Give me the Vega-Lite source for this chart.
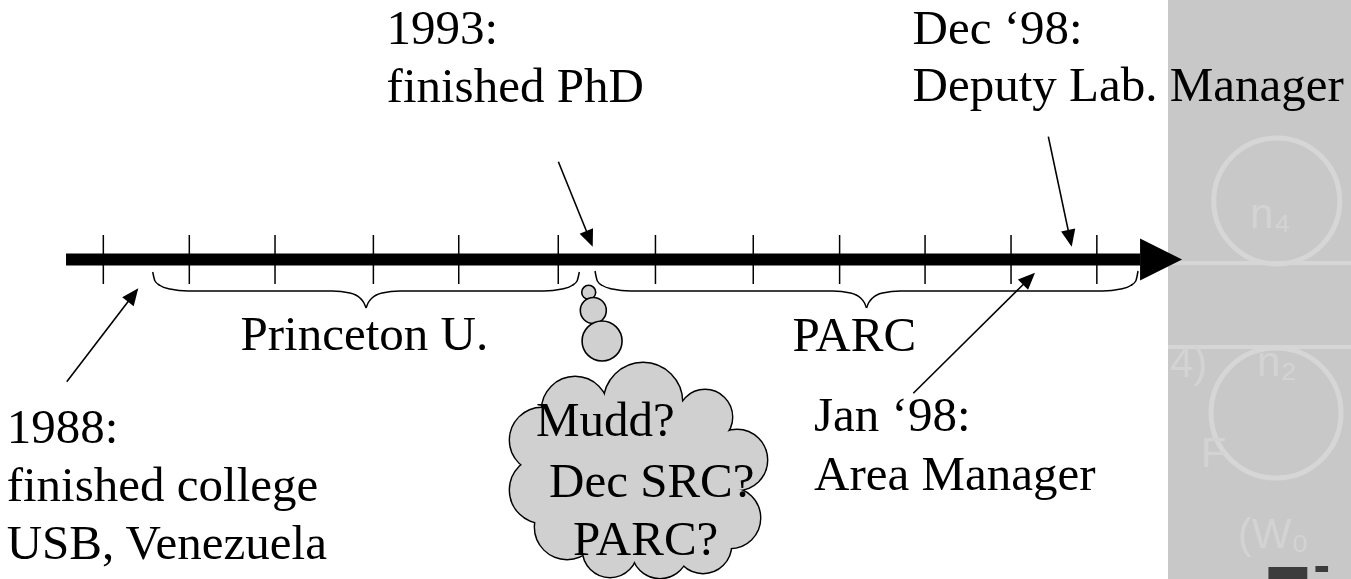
{
  "$schema": "https://vega.github.io/schema/vega-lite/v6.json",
  "width": 1351,
  "height": 579,
  "autosize": "none",
  "padding": 0,
  "background": "white",
  "config": {"view": {"stroke": null}},
  "datasets": {
    "panel": [{"yr": 1999.788, "yr2": 2002.0, "v": 0, "v2": 579}],
    "panelLines": [
      {"yr": 1999.788, "yr2": 2002.0, "v": 263},
      {"yr": 1999.788, "yr2": 2002.0, "v": 347}
    ],
    "panelCircles": [
      {"yr": 2000.992, "v": 201, "d": 126},
      {"yr": 2000.984, "v": 413, "d": 130}
    ],
    "panelText": [
      {"t": "n₄", "yr": 2000.696, "v": 228},
      {"t": "n₂", "yr": 2000.774, "v": 376},
      {"t": "4)", "yr": 1999.810, "v": 377},
      {"t": "F", "yr": 2000.150, "v": 467},
      {"t": "(W₀", "yr": 2000.560, "v": 548}
    ],
    "logo": [
      {"yr": 2000.900, "yr2": 2001.330, "v": 567, "v2": 580},
      {"yr": 2001.420, "yr2": 2001.560, "v": 566, "v2": 572}
    ],
    "axisline": [{"yr": 1987.587, "yr2": 1999.478, "v": 259.5}],
    "axishead": [{"yr": 1999.711, "v": 259.5}],
    "ticks": [
      {"yr": 1988.000}, {"yr": 1988.952}, {"yr": 1989.901}, {"yr": 1990.990},
      {"yr": 1991.935}, {"yr": 1993.037}, {"yr": 1994.113}, {"yr": 1995.196},
      {"yr": 1996.152}, {"yr": 1997.098}, {"yr": 1998.050}, {"yr": 1999.000}
    ],
    "braces": [
      {"id": "PL", "yr": 1988.547, "v": 272},
      {"id": "PL", "yr": 1988.572, "v": 281},
      {"id": "PL", "yr": 1988.628, "v": 285.5},
      {"id": "PL", "yr": 1988.738, "v": 289},
      {"id": "PL", "yr": 1988.938, "v": 291},
      {"id": "PL", "yr": 1990.532, "v": 291},
      {"id": "PL", "yr": 1990.731, "v": 293},
      {"id": "PL", "yr": 1990.842, "v": 298},
      {"id": "PL", "yr": 1990.886, "v": 303},
      {"id": "PL", "yr": 1990.909, "v": 308},
      {"id": "PR", "yr": 1990.909, "v": 308},
      {"id": "PR", "yr": 1990.931, "v": 303},
      {"id": "PR", "yr": 1990.975, "v": 298},
      {"id": "PR", "yr": 1991.086, "v": 293},
      {"id": "PR", "yr": 1991.285, "v": 291},
      {"id": "PR", "yr": 1992.879, "v": 291},
      {"id": "PR", "yr": 1993.079, "v": 289},
      {"id": "PR", "yr": 1993.189, "v": 285.5},
      {"id": "PR", "yr": 1993.245, "v": 281},
      {"id": "PR", "yr": 1993.270, "v": 272},
      {"id": "AL", "yr": 1993.444, "v": 271},
      {"id": "AL", "yr": 1993.470, "v": 281},
      {"id": "AL", "yr": 1993.525, "v": 285.5},
      {"id": "AL", "yr": 1993.636, "v": 289},
      {"id": "AL", "yr": 1993.835, "v": 291},
      {"id": "AL", "yr": 1996.074, "v": 291},
      {"id": "AL", "yr": 1996.273, "v": 293},
      {"id": "AL", "yr": 1996.384, "v": 298},
      {"id": "AL", "yr": 1996.428, "v": 303},
      {"id": "AL", "yr": 1996.450, "v": 308},
      {"id": "AR", "yr": 1996.450, "v": 308},
      {"id": "AR", "yr": 1996.472, "v": 303},
      {"id": "AR", "yr": 1996.517, "v": 298},
      {"id": "AR", "yr": 1996.627, "v": 293},
      {"id": "AR", "yr": 1996.827, "v": 291},
      {"id": "AR", "yr": 1999.065, "v": 291},
      {"id": "AR", "yr": 1999.265, "v": 289},
      {"id": "AR", "yr": 1999.375, "v": 285.5},
      {"id": "AR", "yr": 1999.431, "v": 281},
      {"id": "AR", "yr": 1999.456, "v": 271}
    ],
    "arrows": [
      {"id": "1988", "yr": 1987.595, "v": 381.7, "yr2": 1988.330, "v2": 295.0, "ang": 37.5},
      {"id": "1993", "yr": 1993.038, "v": 161.7, "yr2": 1993.383, "v2": 238.8, "ang": 158},
      {"id": "Dec98", "yr": 1998.463, "v": 136.7, "yr2": 1998.702, "v2": 238.4, "ang": 168},
      {"id": "Jan98", "yr": 1996.968, "v": 393.3, "yr2": 1998.249, "v2": 278.7, "ang": 45.2}
    ],
    "bubbles": [
      {"yr": 1993.374, "v": 292.3, "d": 14},
      {"yr": 1993.425, "v": 310.5, "d": 26},
      {"yr": 1993.522, "v": 341, "d": 40}
    ],
    "cloud": [
      {"yr": 1993.223, "v": 410, "d": 66},
      {"yr": 1993.976, "v": 402, "d": 78},
      {"yr": 1994.662, "v": 417, "d": 54},
      {"yr": 1995.016, "v": 460, "d": 60},
      {"yr": 1994.939, "v": 518, "d": 60},
      {"yr": 1994.640, "v": 545, "d": 56},
      {"yr": 1994.164, "v": 550, "d": 56},
      {"yr": 1993.610, "v": 550, "d": 54},
      {"yr": 1993.134, "v": 527, "d": 64},
      {"yr": 1992.868, "v": 490, "d": 66},
      {"yr": 1992.857, "v": 440, "d": 64}
    ],
    "cloudCore": [
      {"yr": 1993.942, "v": 470, "d": 160},
      {"yr": 1994.750, "v": 488, "d": 40}
    ],
    "labels": [
      {"t": "1993:", "yr": 1991.136, "v": 44},
      {"t": "finished PhD", "yr": 1991.136, "v": 102},
      {"t": "Dec ‘98:", "yr": 1996.959, "v": 44},
      {"t": "Deputy Lab. Manager", "yr": 1996.959, "v": 100.5},
      {"t": "Princeton U.", "yr": 1989.519, "v": 350},
      {"t": "PARC", "yr": 1995.631, "v": 350.7},
      {"t": "1988:", "yr": 1986.930, "v": 443.3},
      {"t": "finished college", "yr": 1986.930, "v": 501},
      {"t": "USB, Venezuela", "yr": 1986.930, "v": 559},
      {"t": "Jan ‘98:", "yr": 1995.869, "v": 430.7},
      {"t": "Area Manager", "yr": 1995.869, "v": 490},
      {"t": "Mudd?", "yr": 1992.791, "v": 436},
      {"t": "Dec SRC?", "yr": 1992.935, "v": 496.7},
      {"t": "PARC?", "yr": 1993.201, "v": 554.5}
    ]
  },
  "layer": [
    {
      "data": {"name": "panel"},
      "mark": {"type": "rect", "color": "#c8c8c8"},
      "encoding": {
        "x": {"field": "yr", "type": "quantitative", "scale": {"domain": [1986.856, 2001.814], "nice": false, "zero": false}, "axis": null},
        "x2": {"field": "yr2"},
        "y": {"field": "v", "type": "quantitative", "scale": {"domain": [0, 579], "reverse": true, "nice": false, "zero": false}, "axis": null},
        "y2": {"field": "v2"}
      }
    },
    {
      "data": {"name": "panelLines"},
      "mark": {"type": "rule", "color": "#d6d6d6", "strokeWidth": 4},
      "encoding": {
        "x": {"field": "yr", "type": "quantitative", "scale": {"domain": [1986.856, 2001.814], "nice": false, "zero": false}, "axis": null},
        "x2": {"field": "yr2"},
        "y": {"field": "v", "type": "quantitative", "scale": {"domain": [0, 579], "reverse": true, "nice": false, "zero": false}, "axis": null}
      }
    },
    {
      "data": {"name": "panelCircles"},
      "mark": {"type": "point", "shape": "circle", "filled": false, "stroke": "#d6d6d6", "strokeWidth": 5, "opacity": 1},
      "encoding": {
        "x": {"field": "yr", "type": "quantitative", "scale": {"domain": [1986.856, 2001.814], "nice": false, "zero": false}, "axis": null},
        "y": {"field": "v", "type": "quantitative", "scale": {"domain": [0, 579], "reverse": true, "nice": false, "zero": false}, "axis": null},
        "size": {"field": "d", "type": "quantitative", "scale": {"type": "pow", "exponent": 2, "domain": [0, 200], "range": [0, 40000]}, "legend": null}
      }
    },
    {
      "data": {"name": "panelText"},
      "mark": {"type": "text", "font": "Liberation Sans", "fontSize": 42, "align": "left", "baseline": "alphabetic", "color": "#d3d3d3"},
      "encoding": {
        "x": {"field": "yr", "type": "quantitative", "scale": {"domain": [1986.856, 2001.814], "nice": false, "zero": false}, "axis": null},
        "y": {"field": "v", "type": "quantitative", "scale": {"domain": [0, 579], "reverse": true, "nice": false, "zero": false}, "axis": null},
        "text": {"field": "t"}
      }
    },
    {
      "data": {"name": "logo"},
      "mark": {"type": "rect", "color": "#3c3c3c"},
      "encoding": {
        "x": {"field": "yr", "type": "quantitative", "scale": {"domain": [1986.856, 2001.814], "nice": false, "zero": false}, "axis": null},
        "x2": {"field": "yr2"},
        "y": {"field": "v", "type": "quantitative", "scale": {"domain": [0, 579], "reverse": true, "nice": false, "zero": false}, "axis": null},
        "y2": {"field": "v2"}
      }
    },
    {
      "data": {"name": "axisline"},
      "mark": {"type": "rule", "color": "black", "strokeWidth": 12},
      "encoding": {
        "x": {"field": "yr", "type": "quantitative", "scale": {"domain": [1986.856, 2001.814], "nice": false, "zero": false}, "axis": null},
        "x2": {"field": "yr2"},
        "y": {"field": "v", "type": "quantitative", "scale": {"domain": [0, 579], "reverse": true, "nice": false, "zero": false}, "axis": null}
      }
    },
    {
      "data": {"name": "axishead"},
      "mark": {"type": "point", "shape": "M-1,-1L1,0L-1,1Z", "filled": true, "color": "black", "size": 1764, "opacity": 1},
      "encoding": {
        "x": {"field": "yr", "type": "quantitative", "scale": {"domain": [1986.856, 2001.814], "nice": false, "zero": false}, "axis": null},
        "y": {"field": "v", "type": "quantitative", "scale": {"domain": [0, 579], "reverse": true, "nice": false, "zero": false}, "axis": null}
      }
    },
    {
      "data": {"name": "ticks"},
      "mark": {"type": "rule", "color": "black", "strokeWidth": 1.5},
      "encoding": {
        "x": {"field": "yr", "type": "quantitative", "scale": {"domain": [1986.856, 2001.814], "nice": false, "zero": false}, "axis": null},
        "y": {"datum": 235, "type": "quantitative", "scale": {"domain": [0, 579], "reverse": true, "nice": false, "zero": false}, "axis": null},
        "y2": {"datum": 284}
      }
    },
    {
      "data": {"name": "braces"},
      "mark": {"type": "line", "interpolate": "monotone", "color": "black", "strokeWidth": 1.5},
      "encoding": {
        "x": {"field": "yr", "type": "quantitative", "scale": {"domain": [1986.856, 2001.814], "nice": false, "zero": false}, "axis": null},
        "y": {"field": "v", "type": "quantitative", "scale": {"domain": [0, 579], "reverse": true, "nice": false, "zero": false}, "axis": null},
        "detail": {"field": "id", "type": "nominal"}
      }
    },
    {
      "data": {"name": "arrows"},
      "mark": {"type": "rule", "color": "black", "strokeWidth": 1.6},
      "encoding": {
        "x": {"field": "yr", "type": "quantitative", "scale": {"domain": [1986.856, 2001.814], "nice": false, "zero": false}, "axis": null},
        "x2": {"field": "yr2"},
        "y": {"field": "v", "type": "quantitative", "scale": {"domain": [0, 579], "reverse": true, "nice": false, "zero": false}, "axis": null},
        "y2": {"field": "v2"}
      }
    },
    {
      "data": {"name": "arrows"},
      "mark": {"type": "point", "shape": "M0,-1L0.85,1L-0.85,1Z", "filled": true, "color": "black", "size": 289, "opacity": 1},
      "encoding": {
        "x": {"field": "yr2", "type": "quantitative", "scale": {"domain": [1986.856, 2001.814], "nice": false, "zero": false}, "axis": null},
        "y": {"field": "v2", "type": "quantitative", "scale": {"domain": [0, 579], "reverse": true, "nice": false, "zero": false}, "axis": null},
        "angle": {"field": "ang", "type": "quantitative", "scale": {"domain": [0, 360], "range": [0, 360]}}
      }
    },
    {
      "data": {"name": "bubbles"},
      "mark": {"type": "point", "shape": "circle", "filled": true, "fill": "#d0d0d0", "stroke": "black", "strokeWidth": 1.6, "opacity": 1},
      "encoding": {
        "x": {"field": "yr", "type": "quantitative", "scale": {"domain": [1986.856, 2001.814], "nice": false, "zero": false}, "axis": null},
        "y": {"field": "v", "type": "quantitative", "scale": {"domain": [0, 579], "reverse": true, "nice": false, "zero": false}, "axis": null},
        "size": {"field": "d", "type": "quantitative", "scale": {"type": "pow", "exponent": 2, "domain": [0, 200], "range": [0, 40000]}, "legend": null}
      }
    },
    {
      "data": {"name": "cloud"},
      "mark": {"type": "point", "shape": "circle", "filled": true, "fill": "#d0d0d0", "stroke": "black", "strokeWidth": 2.8, "opacity": 1},
      "encoding": {
        "x": {"field": "yr", "type": "quantitative", "scale": {"domain": [1986.856, 2001.814], "nice": false, "zero": false}, "axis": null},
        "y": {"field": "v", "type": "quantitative", "scale": {"domain": [0, 579], "reverse": true, "nice": false, "zero": false}, "axis": null},
        "size": {"field": "d", "type": "quantitative", "scale": {"type": "pow", "exponent": 2, "domain": [0, 200], "range": [0, 40000]}, "legend": null}
      }
    },
    {
      "data": {"name": "cloud"},
      "mark": {"type": "point", "shape": "circle", "filled": true, "fill": "#d0d0d0", "strokeWidth": 0, "opacity": 1},
      "encoding": {
        "x": {"field": "yr", "type": "quantitative", "scale": {"domain": [1986.856, 2001.814], "nice": false, "zero": false}, "axis": null},
        "y": {"field": "v", "type": "quantitative", "scale": {"domain": [0, 579], "reverse": true, "nice": false, "zero": false}, "axis": null},
        "size": {"field": "d", "type": "quantitative", "scale": {"type": "pow", "exponent": 2, "domain": [0, 200], "range": [0, 40000]}, "legend": null}
      }
    },
    {
      "data": {"name": "cloudCore"},
      "mark": {"type": "point", "shape": "circle", "filled": true, "fill": "#d0d0d0", "strokeWidth": 0, "opacity": 1},
      "encoding": {
        "x": {"field": "yr", "type": "quantitative", "scale": {"domain": [1986.856, 2001.814], "nice": false, "zero": false}, "axis": null},
        "y": {"field": "v", "type": "quantitative", "scale": {"domain": [0, 579], "reverse": true, "nice": false, "zero": false}, "axis": null},
        "size": {"field": "d", "type": "quantitative", "scale": {"type": "pow", "exponent": 2, "domain": [0, 200], "range": [0, 40000]}, "legend": null}
      }
    },
    {
      "data": {"name": "labels"},
      "mark": {"type": "text", "font": "Liberation Serif", "fontSize": 49, "align": "left", "baseline": "alphabetic", "color": "black"},
      "encoding": {
        "x": {"field": "yr", "type": "quantitative", "scale": {"domain": [1986.856, 2001.814], "nice": false, "zero": false}, "axis": null},
        "y": {"field": "v", "type": "quantitative", "scale": {"domain": [0, 579], "reverse": true, "nice": false, "zero": false}, "axis": null},
        "text": {"field": "t"}
      }
    }
  ]
}
